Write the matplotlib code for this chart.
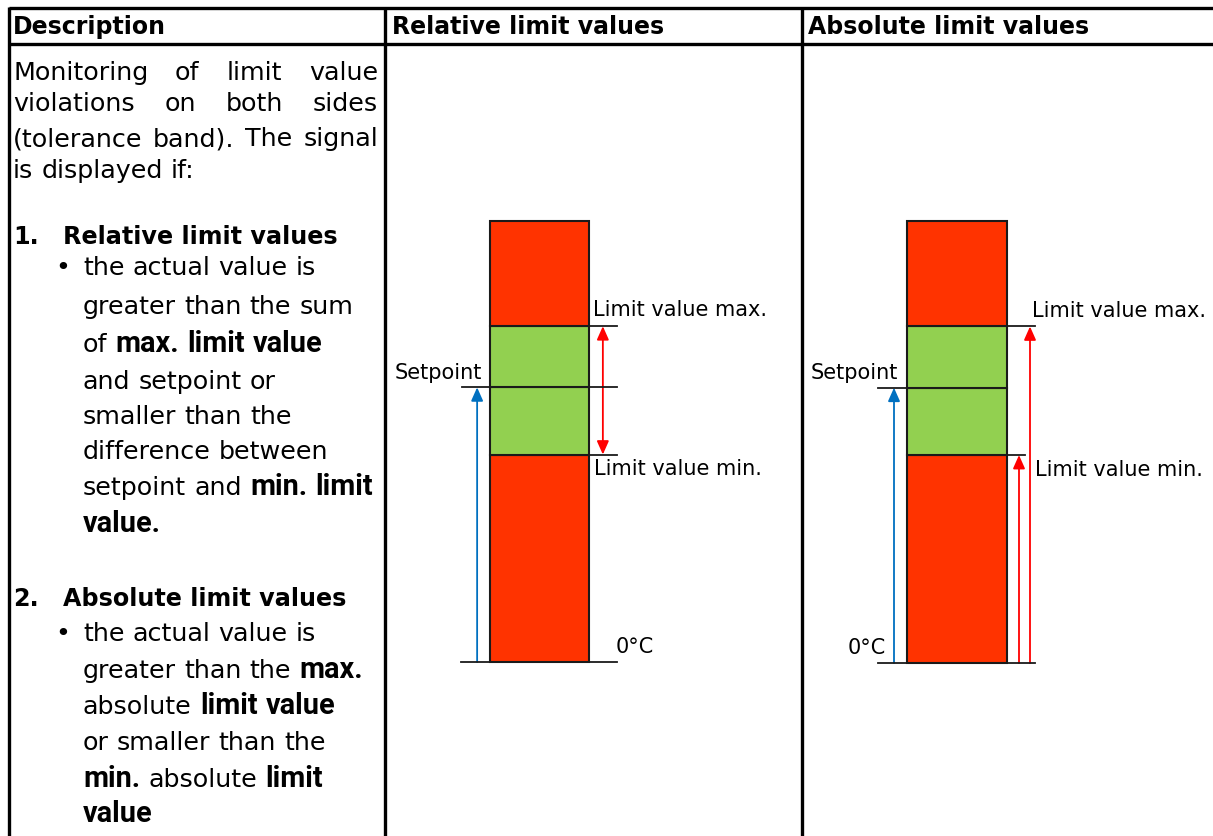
import matplotlib
matplotlib.use("Agg")
import matplotlib.pyplot as plt
from matplotlib.patches import Rectangle, FancyArrowPatch

# diagram levels (same scale for both columns, 0 = 0°C)
levels = ["0°C", "Limit value min.", "Setpoint", "Limit value max.", "top"]
level_values = [0, 20.7, 27.4, 33.5, 44.0]
band_colors = ["#FF3300", "#92D050", "#92D050", "#FF3300"]

headers = ["Description", "Relative limit values", "Absolute limit values"]

# description text: (indent, bullet/number, text, justify); **...** = bold
desc_lines = [
    (0, "", "Monitoring of limit value", True),
    (0, "", "violations on both sides", True),
    (0, "", "(tolerance band). The signal", True),
    (0, "", "is displayed if:", False),
    (None, "", "", False),
    (1, "1.", "Relative limit values", False),
    (2, "•", "the actual value is", False),
    (2, "", "greater than the sum", False),
    (2, "", "of **max. limit value**", False),
    (2, "", "and setpoint or", False),
    (2, "", "smaller than the", False),
    (2, "", "difference between", False),
    (2, "", "setpoint and **min. limit**", False),
    (2, "", "**value.**", False),
    (None, "", "", False),
    (1, "2.", "Absolute limit values", False),
    (2, "•", "the actual value is", False),
    (2, "", "greater than the **max.**", False),
    (2, "", "absolute **limit value**", False),
    (2, "", "or smaller than the", False),
    (2, "", "**min.** absolute **limit**", False),
    (2, "", "**value**", False),
]
line_y = [73, 104, 139, 171, None, 237, 268, 307, 345, 382, 417, 452, 488, 525,
          None, 599, 634, 671, 707, 743, 780, 815]

W, H = 1213, 836
fig = plt.figure(figsize=(W / 100, H / 100), dpi=100)
ax = fig.add_axes([0, 0, 1, 1])
ax.set_xlim(0, W)
ax.set_ylim(H, 0)
ax.axis("off")
r = fig.canvas.get_renderer()

# table grid
lw_grid = 2.4
ax.plot([9, W], [8, 8], color="black", lw=lw_grid, solid_capstyle="butt")
ax.plot([9, W], [44, 44], color="black", lw=lw_grid, solid_capstyle="butt")
for x in [9, 385, 802]:
    ax.plot([x, x], [6.5, H], color="black", lw=lw_grid, solid_capstyle="butt")

for x, txt in zip([13, 392, 808], headers):
    ax.text(x, 27, txt, fontsize=17, fontweight="bold", va="center", ha="left")

FS = 18.3
FS_BOLD = 20.8
FS_HEAD = 17.2
BODY = "DejaVu Sans"
BOLD = "Roboto"
LBL = 15
BASE = 7  # baseline offset from line centre


def width(t):
    return t.get_window_extent(r).width


def tokens(s):
    out = []
    parts = s.split("**")
    for i, p in enumerate(parts):
        for w in p.split():
            out.append((w, i % 2 == 1))
    return out


sp = ax.text(0, 0, "x x", fontsize=FS)
nsp = ax.text(0, 0, "xx", fontsize=FS)
space_w = width(sp) - width(nsp)
sp.remove()
nsp.remove()


def draw_line(x0, x1, y, s, justify):
    toks = tokens(s)
    arts = []
    for w, b in toks:
        t = ax.text(0, y + BASE, w, fontsize=FS_BOLD if b else FS,
                    va="baseline", ha="left",
                    fontweight="bold" if b else "normal",
                    family=BOLD if b else BODY)
        arts.append(t)
    ws = [width(t) for t in arts]
    gap = space_w
    if justify and len(arts) > 1:
        gap = (x1 - x0 - sum(ws)) / (len(arts) - 1)
    x = x0
    for t, w in zip(arts, ws):
        t.set_x(x)
        x += w + gap


for (indent, mark, s, just), y in zip(desc_lines, line_y):
    if indent is None:
        continue
    if indent == 0:
        draw_line(13, 378, y, s, just)
    elif indent == 1:
        ax.text(13, y + BASE, mark, fontsize=FS_HEAD, fontweight="bold", va="baseline")
        ax.text(63, y + BASE, s, fontsize=FS_HEAD, fontweight="bold", va="baseline")
    else:
        if mark:
            ax.text(55, y + BASE, mark, fontsize=FS, va="baseline", ha="left")
        draw_line(83, 378, y, s, False)


def diagram(col_l, col_r, bar_l, bar_r, base_px, mode):
    px_per_unit = (base_px - 221) / level_values[-1]
    bw = bar_r - bar_l
    d = fig.add_axes([col_l / W, 0, (col_r - col_l) / W, (H - 46) / H])
    d.set_xlim((col_l - bar_l) / bw, (col_r - bar_l) / bw)
    d.set_ylim(-(H - base_px) / px_per_unit, (base_px - 46) / px_per_unit)
    d.axis("off")
    for lo, hi, c in zip(level_values[:-1], level_values[1:], band_colors):
        d.add_patch(Rectangle((0, lo), 1, hi - lo, facecolor=c,
                              edgecolor="#1a1a1a", lw=1.5))
    v0, vmin, vset, vmax, _ = level_values
    lc = "#1a1a1a"
    lw = 1.3
    d.plot([-0.29, 1.28], [v0, v0], color=lc, lw=lw)
    d.plot([1, 1.28], [vmax, vmax], color=lc, lw=lw)
    blue = "#0070C0"
    red = "#FF0000"

    def arrow(x, y0, y1, color, style="-|>"):
        d.add_patch(FancyArrowPatch((x, y0), (x, y1), arrowstyle=style + ",head_length=0.45,head_width=0.2",
                                    mutation_scale=18, color=color, lw=1.3,
                                    shrinkA=0, shrinkB=0))

    if mode == "rel":
        d.plot([-0.28, 1.28], [vset, vset], color=lc, lw=lw)
        d.plot([1, 1.28], [vmin, vmin], color=lc, lw=lw)
        arrow(-0.13, v0, vset, blue)
        arrow(1.14, vmin, vmax, red, "<|-|>")
        d.text(1.04, vmax + 1.6, levels[3], fontsize=LBL, va="center", ha="left")
        d.text(1.05, vmin - 1.4, levels[1], fontsize=LBL, va="center", ha="left")
        d.text(-0.08, vset + 1.4, levels[2], fontsize=LBL, va="center", ha="right")
        d.text(1.27, v0 + 1.5, levels[0], fontsize=LBL, va="center", ha="left")
    else:
        d.plot([-0.29, 1], [vset, vset], color=lc, lw=lw)
        d.plot([1, 1.18], [vmin, vmin], color=lc, lw=lw)
        arrow(-0.13, v0, vset, blue)
        arrow(1.12, v0, vmin, red)
        arrow(1.23, v0, vmax, red)
        d.text(1.25, vmax + 1.5, levels[3], fontsize=LBL, va="center", ha="left")
        d.text(1.28, vmin - 1.5, levels[1], fontsize=LBL, va="center", ha="left")
        d.text(-0.09, vset + 1.5, levels[2], fontsize=LBL, va="center", ha="right")
        d.text(-0.21, v0 + 1.5, levels[0], fontsize=LBL, va="center", ha="right")


diagram(387, 800, 490, 589, 662, "rel")
diagram(804, W, 907, 1007, 663, "abs")

fig.savefig("out.png", dpi=100)
